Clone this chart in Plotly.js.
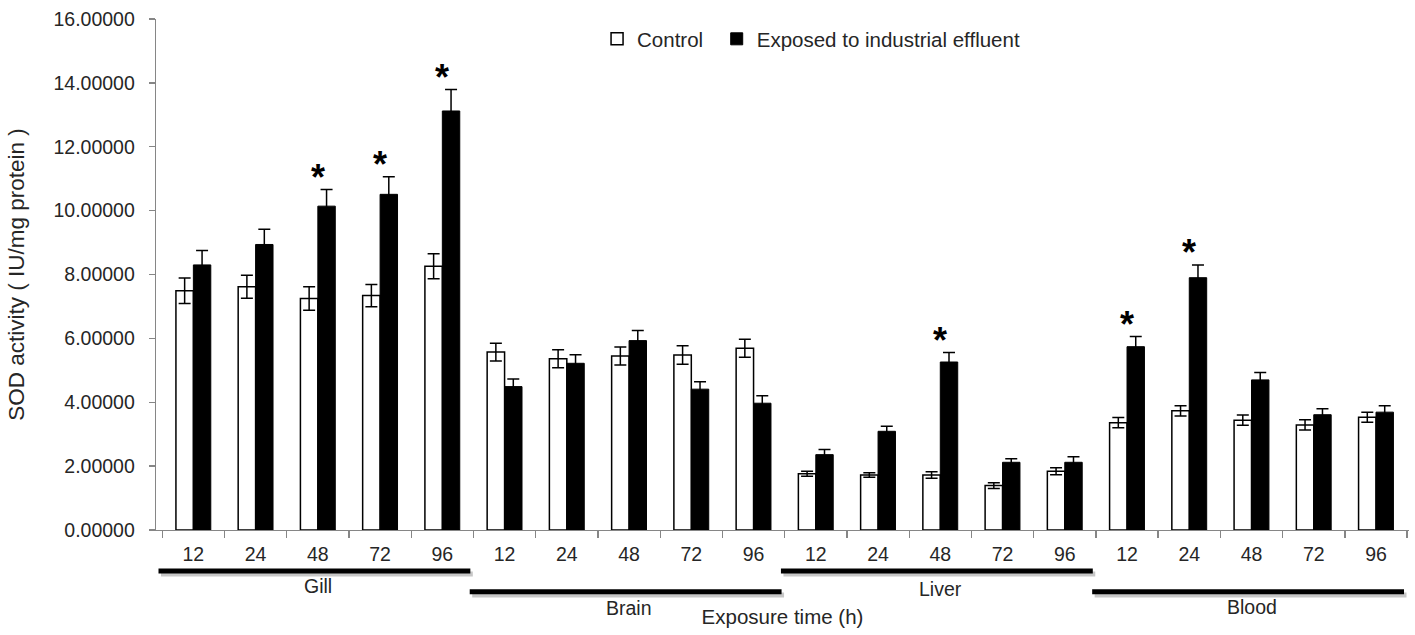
<!DOCTYPE html>
<html>
<head>
<meta charset="utf-8">
<script src="https://cdn.plot.ly/plotly-3.0.1.min.js"></script>
<style>html,body{margin:0;padding:0;background:#fff;}#chart{width:1415px;height:635px;}</style>
</head>
<body>
<div id="chart"></div>
<script>
// ---- data ----
const organs = ['Gill', 'Brain', 'Liver', 'Blood'];
const times = ['12', '24', '48', '72', '96'];
const controlValues = [7.49, 7.62, 7.25, 7.34, 8.26,  5.57, 5.36, 5.45, 5.48, 5.69,  1.76, 1.72, 1.72, 1.39, 1.84,  3.36, 3.73, 3.44, 3.29, 3.53];
const controlErr    = [0.40, 0.36, 0.37, 0.35, 0.39,  0.28, 0.28, 0.28, 0.29, 0.28,  0.08, 0.07, 0.10, 0.09, 0.11,  0.16, 0.16, 0.16, 0.16, 0.16];
const exposedValues = [8.30, 8.94, 10.14, 10.51, 13.12,  4.49, 5.22, 5.93, 4.41, 3.97,  2.36, 3.09, 5.26, 2.12, 2.12,  5.74, 7.90, 4.70, 3.61, 3.69];
const exposedErr    = [0.45, 0.48, 0.52, 0.55, 0.67,  0.24, 0.27, 0.32, 0.23, 0.23,  0.16, 0.16, 0.30, 0.11, 0.17,  0.32, 0.40, 0.23, 0.19, 0.20];
const significant   = [0, 0, 1, 1, 1,  0, 0, 0, 0, 0,  0, 0, 1, 0, 0,  1, 1, 0, 0, 0];
const yTickVals = [0, 2, 4, 6, 8, 10, 12, 14, 16];
const seriesNames = ['Control', 'Exposed to industrial effluent'];

// ---- build categories ----
const cats = [];
const tickText = [];
organs.forEach(o => times.forEach(t => { cats.push(o + ' ' + t); tickText.push(t); }));

const FONT = 'Liberation Sans, Arial, sans-serif';
const TXT = '#262626';

const traces = [
  {
    type: 'bar', name: seriesNames[0], x: cats, y: controlValues, legend: 'legend',
    marker: {color: '#ffffff', line: {color: '#000000', width: 1.5}},
    error_y: {type: 'data', array: controlErr, visible: true, color: '#000000', thickness: 1.5, width: 6}
  },
  {
    type: 'bar', name: seriesNames[1], x: cats, y: exposedValues, legend: 'legend2',
    marker: {color: '#000000', line: {color: '#000000', width: 1}},
    error_y: {type: 'data', array: exposedErr, visible: true, color: '#000000', thickness: 1.5, width: 6}
  }
];

const annotations = [];
cats.forEach((c, i) => {
  if (significant[i]) {
    annotations.push({
      x: c, y: exposedValues[i] + exposedErr[i], xref: 'x', yref: 'y',
      text: '*', showarrow: false, yanchor: 'middle', yshift: 12,
      font: {family: FONT, size: 36, color: '#000000', weight: 'bold'}
    });
  }
});

// group brackets and labels
const shapes = [];
const lineY = [-0.080, -0.121, -0.080, -0.121];
const labY = [-0.110, -0.152, -0.116, -0.151];
organs.forEach((o, g) => {
  const x0 = g * times.length - 0.56;
  const x1 = g * times.length + times.length - 0.55;
  shapes.push({type: 'line', xref: 'x', yref: 'paper', x0: x0 + 0.04, x1: x1 + 0.04, y0: lineY[g] - 0.006, y1: lineY[g] - 0.006,
    line: {color: 'rgba(0,0,0,0.22)', width: 5}, layer: 'above'});
  shapes.push({type: 'line', xref: 'x', yref: 'paper', x0: x0, x1: x1, y0: lineY[g], y1: lineY[g],
    line: {color: '#000000', width: 5}, layer: 'above'});
  annotations.push({
    x: g * times.length + (times.length - 1) / 2, y: labY[g], xref: 'x', yref: 'paper',
    text: o, showarrow: false, yanchor: 'middle', xanchor: 'center',
    font: {family: FONT, size: 19.5, color: TXT}
  });
});

const legendBase = {orientation: 'h', xanchor: 'left', y: 1.0, yanchor: 'top',
  font: {family: FONT, size: 20.5, color: TXT}, itemwidth: 30, bgcolor: 'rgba(0,0,0,0)'};

const layout = {
  width: 1415, height: 635,
  margin: {l: 156, r: 6, t: 19, b: 105},
  paper_bgcolor: '#ffffff', plot_bgcolor: '#ffffff',
  font: {family: FONT, size: 19.5, color: TXT},
  barmode: 'group', bargap: 0.44, bargroupgap: 0,
  showlegend: true,
  legend: Object.assign({}, legendBase, {x: 0.352}),
  legend2: Object.assign({}, legendBase, {x: 0.4475}),
  xaxis: {
    type: 'category', categoryorder: 'array', categoryarray: cats,
    tickmode: 'array', tickvals: cats, ticktext: tickText,
    tickson: 'boundaries', ticks: 'outside', ticklen: 7, tickcolor: '#868686', tickwidth: 1.3,
    showline: true, linecolor: '#868686', linewidth: 1.3, showgrid: false, zeroline: false,
    ticklabelstandoff: 6,
    tickfont: {family: FONT, size: 19.5, color: TXT},
    title: {text: 'Exposure time (h)', standoff: 46, font: {family: FONT, size: 20.5, color: TXT}}
  },
  yaxis: {
    range: [0, 16], tickmode: 'array', tickvals: yTickVals, tickformat: '.5f',
    ticks: 'outside', ticklen: 6, tickcolor: '#868686', tickwidth: 1.3,
    showline: true, linecolor: '#868686', linewidth: 1.3, showgrid: false, zeroline: false,
    ticklabelstandoff: 10,
    tickfont: {family: FONT, size: 19.5, color: TXT},
    title: {text: 'SOD activity ( IU/mg protein )', standoff: 22, font: {family: FONT, size: 22.5, color: TXT}}
  },
  shapes: shapes,
  annotations: annotations
};

Plotly.newPlot('chart', traces, layout, {displayModeBar: false, staticPlot: true});
</script>
</body>
</html>
